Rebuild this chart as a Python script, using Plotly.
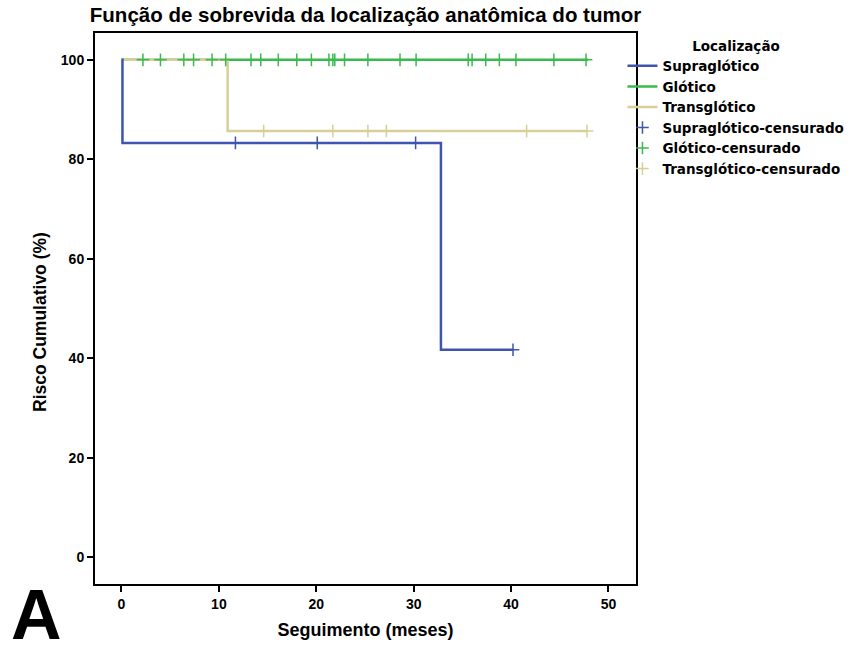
import plotly.graph_objects as go

# Survival curves (step functions)
supra_t = [0, 0.1, 32.8, 40.2]
supra_s = [100, 83.3, 41.7, 41.7]
glot_t = [0, 47.9]
glot_s = [100, 100]
trans_t = [0, 10.9, 47.8]
trans_s = [100, 85.7, 85.7]

# Censored observations
supra_cens_t = [11.7, 20.1, 30.2, 40.2]
supra_cens_s = [83.3, 83.3, 83.3, 41.7]
glot_cens_t = [2.2, 4.0, 6.4, 7.4, 9.3, 10.7, 13.3, 14.3, 16.1, 18.0, 19.5, 21.3, 21.7, 21.9,
               22.9, 25.3, 28.6, 30.25, 35.6, 36.0, 37.4, 38.8, 40.5, 44.4, 47.7]
glot_cens_s = [100] * len(glot_cens_t)
trans_cens_t = [14.6, 21.7, 25.3, 27.2, 41.6, 47.8]
trans_cens_s = [85.7] * len(trans_cens_t)

names = ["Supraglótico", "Glótico", "Transglótico",
         "Supraglótico-censurado", "Glótico-censurado", "Transglótico-censurado"]
x_ticks = [0, 10, 20, 30, 40, 50]
y_ticks = [0, 20, 40, 60, 80, 100]

c_blue = "rgb(62,84,176)"
c_green = "rgb(56,186,76)"
c_tan = "rgb(215,207,150)"

fig = go.Figure()
# lines (draw order: green, tan, blue)
fig.add_trace(go.Scatter(x=glot_t, y=glot_s, mode="lines", line=dict(color=c_green, width=2.5, shape="hv"),
                         name=names[1], legendrank=2))
fig.add_trace(go.Scatter(x=trans_t, y=trans_s, mode="lines", line=dict(color=c_tan, width=2.5, shape="hv"),
                         name=names[2], legendrank=3))
fig.add_trace(go.Scatter(x=supra_t, y=supra_s, mode="lines", line=dict(color=c_blue, width=2.5, shape="hv"),
                         name=names[0], legendrank=1))
# censor marks
for t, s, c, n, r in [(supra_cens_t, supra_cens_s, c_blue, names[3], 4),
                      (glot_cens_t, glot_cens_s, c_green, names[4], 5),
                      (trans_cens_t, trans_cens_s, c_tan, names[5], 6)]:
    fig.add_trace(go.Scatter(x=t, y=s, mode="markers", name=n, legendrank=r,
                             marker=dict(symbol="cross-thin-open", size=9,
                                         line=dict(color=c, width=1.5), color=c)))

SANS = "Liberation Sans, Arial, sans-serif"
legfont = dict(family="DejaVu Sans, sans-serif", size=13.5, color="black", weight="bold")
tickfont = dict(family=SANS, size=14, color="black", weight="bold")

pw, ph = 861 - 95 - 225, 657 - 33 - 73

fig.update_layout(
    width=861, height=657,
    margin=dict(l=95, r=225, t=33, b=73),
    plot_bgcolor="white", paper_bgcolor="white",
    title=dict(text="Função de sobrevida da localização anatômica do tumor",
               x=0.5, xref="paper", xanchor="center", y=0.988, yanchor="top",
               font=dict(family=SANS, size=20.5, color="black", weight="bold")),
    xaxis=dict(range=[-2.72, 52.83], tickvals=x_ticks, showgrid=False, zeroline=False,
               showline=True, mirror=True, linecolor="black", linewidth=2,
               ticks="outside", ticklen=6, tickcolor="black", tickwidth=1.5, tickfont=tickfont,
               title=dict(text="Seguimento (meses)",
                          font=dict(family=SANS, size=18, color="black", weight="bold"), standoff=13)),
    yaxis=dict(range=[-5.4, 105.4], tickvals=y_ticks, showgrid=False, zeroline=False,
               showline=True, mirror=True, linecolor="black", linewidth=2,
               ticks="outside", ticklen=6, tickcolor="black", tickwidth=1.5, tickfont=tickfont),
    legend=dict(x=0.975, xanchor="left", y=1.0, yanchor="top", bgcolor="rgba(0,0,0,0)",
                font=legfont, tracegroupgap=0, itemwidth=30,
                title=dict(text="Localização", side="top center", font=legfont)),
    annotations=[
        dict(text="Risco Cumulativo (%)", textangle=-90,
             x=(40 - 95) / pw, y=(657 - 73 - 322) / ph, xref="paper", yref="paper",
             xanchor="center", yanchor="middle",
             showarrow=False, font=dict(family=SANS, size=17.5, color="black", weight="bold")),
        dict(text="A", x=0, y=0, xref="paper", yref="paper", xanchor="left", yanchor="bottom",
             xshift=-86, yshift=-72, showarrow=False,
             font=dict(family=SANS, size=70, color="black", weight="bold")),
    ],
)

fig.write_html("out.html")
